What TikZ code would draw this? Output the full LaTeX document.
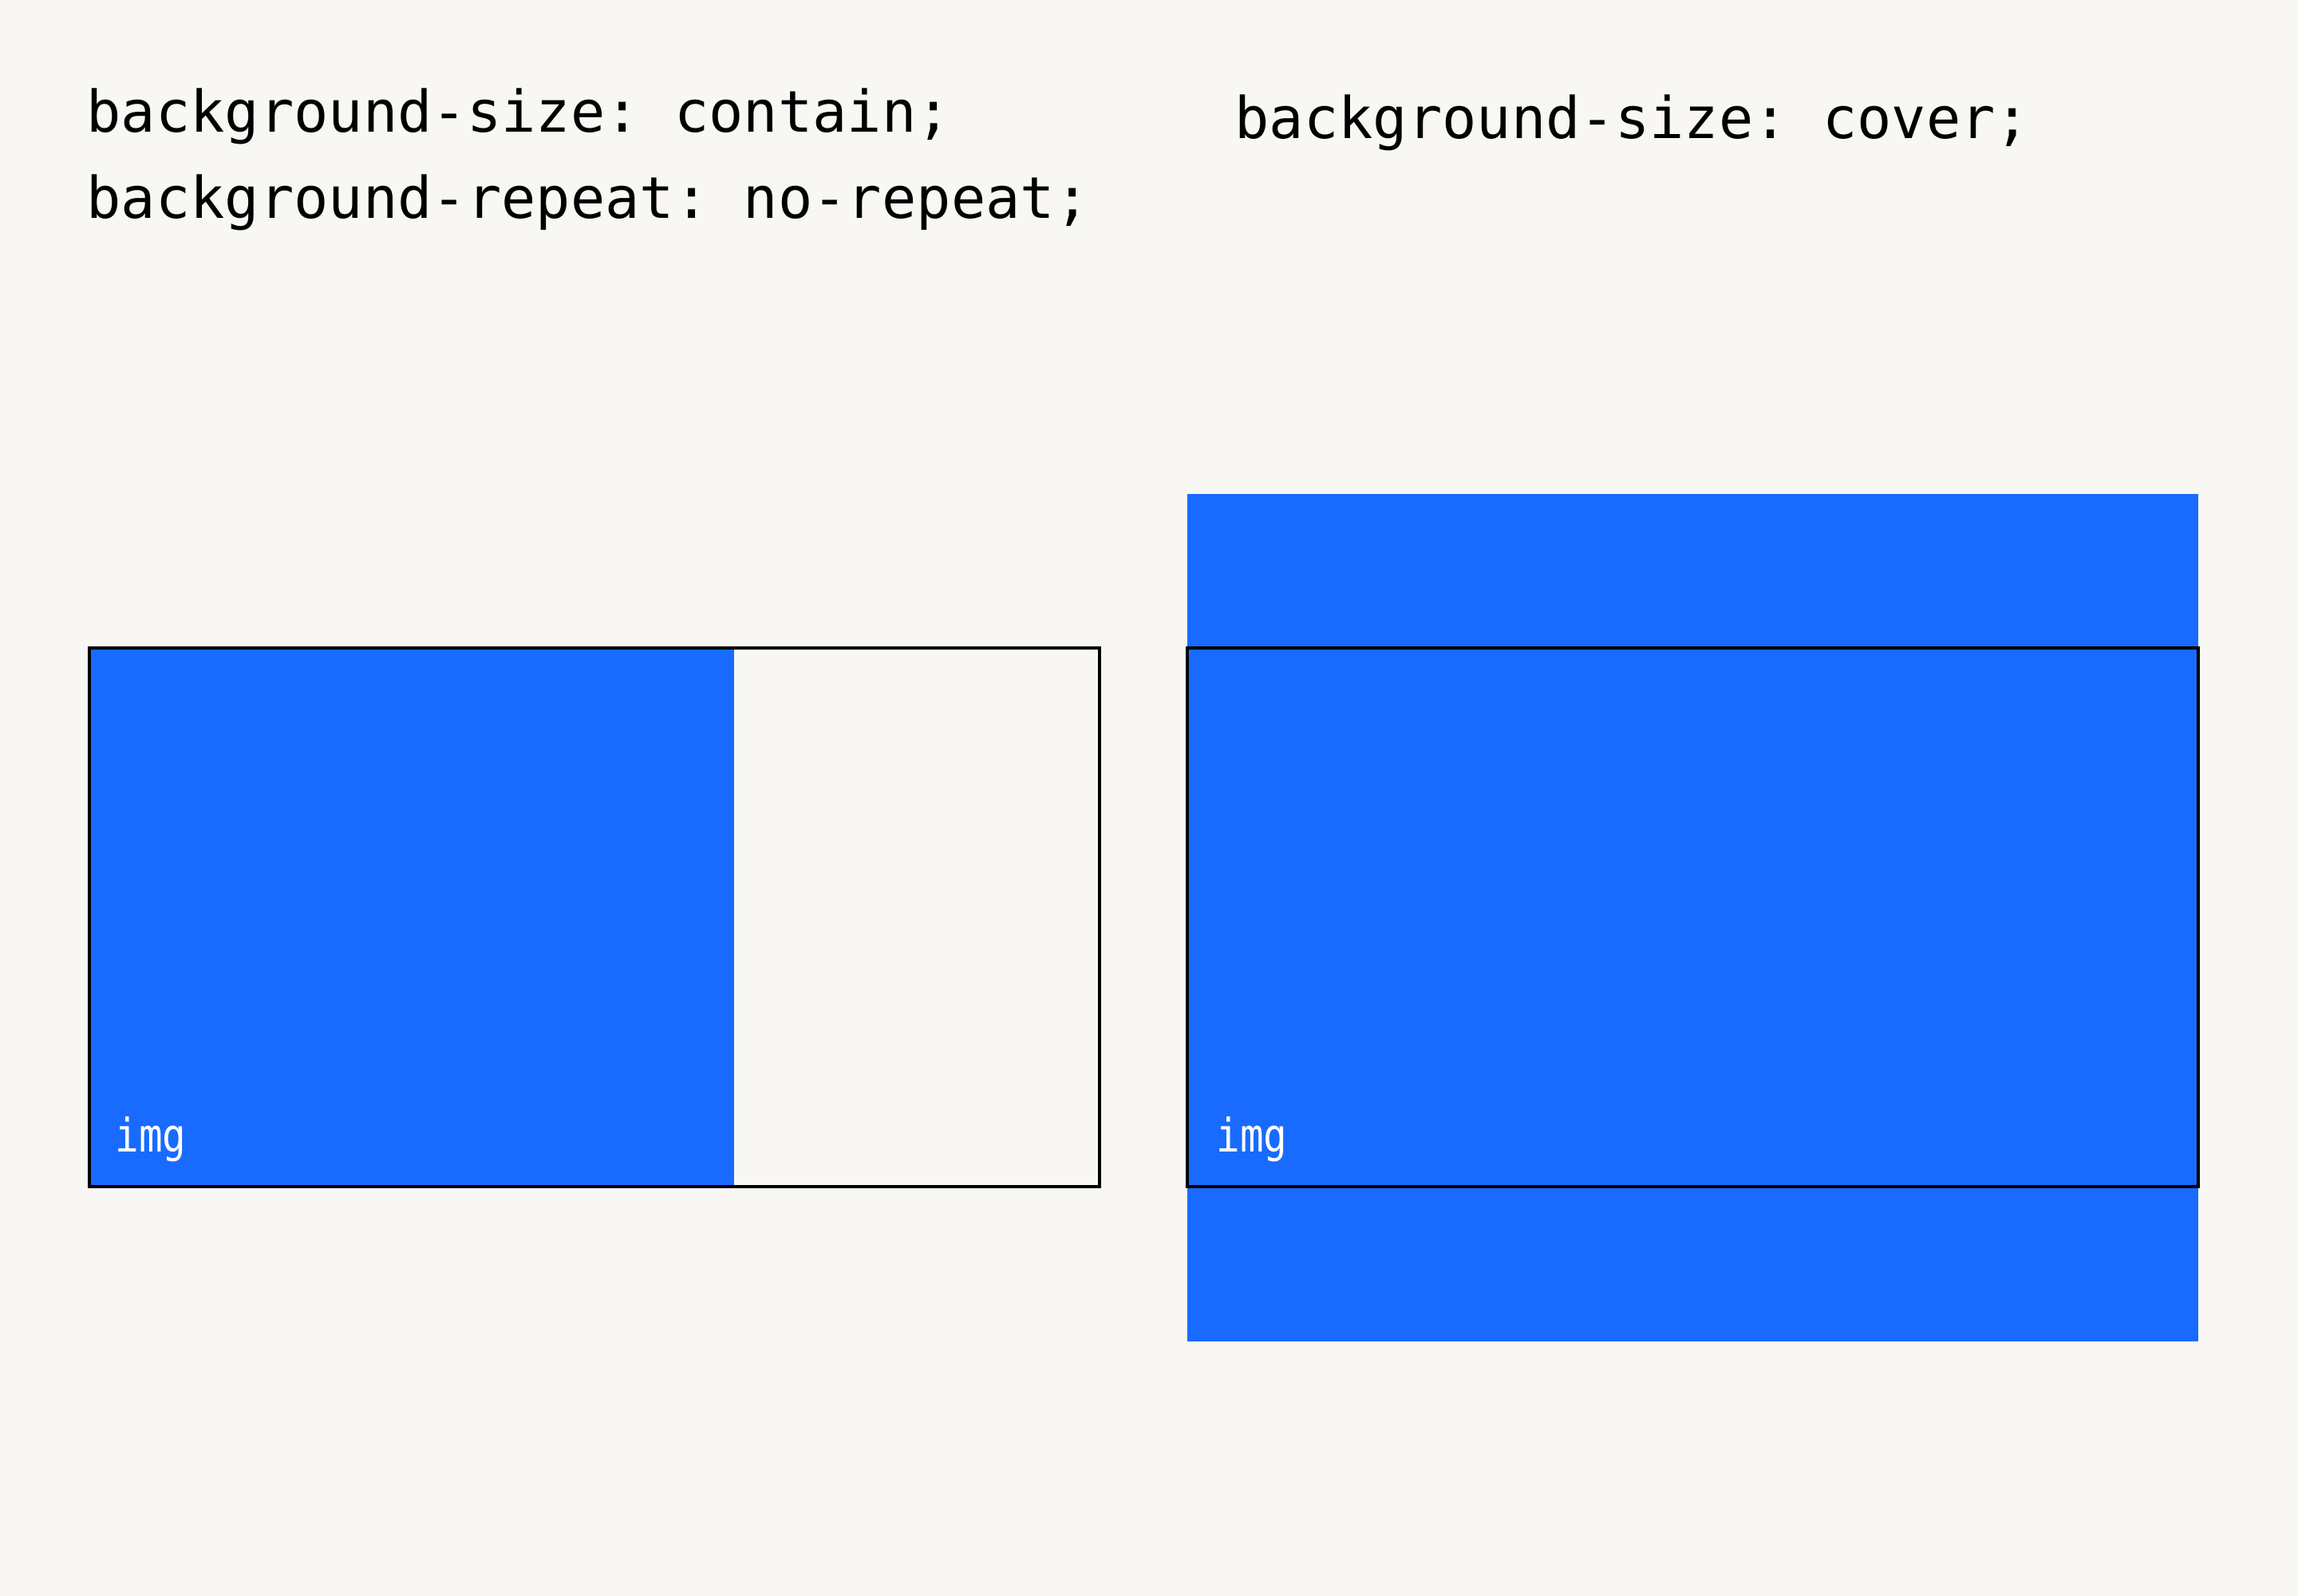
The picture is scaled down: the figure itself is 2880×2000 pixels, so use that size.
\documentclass[tikz,border=0pt]{standalone}
\usepackage{fontspec}
\setmonofont{DejaVu Sans Mono}
\newfontfamily\imgfont[FakeStretch=0.85]{DejaVu Sans Mono}
\usetikzlibrary{positioning}
\definecolor{imgblue}{RGB}{25,107,255}
\definecolor{paper}{RGB}{248,247,243}

\begin{document}
\begin{tikzpicture}[%
            x=0.5pt,
            y=-0.5pt,
            code/.style={%
            	anchor=base west,
            	inner sep=0pt,
            	font=\ttfamily\fontsize{36}{42}\selectfont
            },
            imglabel/.style={%
            	anchor=base west,
            	inner sep=0pt,
            	text=white,
            	font=\imgfont\fontsize{29}{34}\selectfont
            },
            frame/.style={draw=black, line width=2pt},
            image/.style={fill=imgblue}
            ]
            \fill[paper] (0,0) rectangle (2880,2000);
            \useasboundingbox (0,0) rectangle (2880,2000);

            % contain
            \node[code] (size1) at (108,166)           {background-size: contain;};
            \node[code] (repeat1) at (108,274)         {background-repeat: no-repeat;};
            \fill[image] (112,812) rectangle (920,1487);
            \draw[frame] (112,812) rectangle (1378,1487);
            \node[imglabel] (img1) at (144,1443)       {img};

            % cover
            \node[code] (size2) at (1547,174)          {background-size: cover;};
            \fill[image] (1488,619) rectangle (2755,1681);
            \draw[frame] (1488,812) rectangle (2755,1487);
            \node[imglabel] (img2) at (1524,1443)      {img};
\end{tikzpicture}
\end{document}
